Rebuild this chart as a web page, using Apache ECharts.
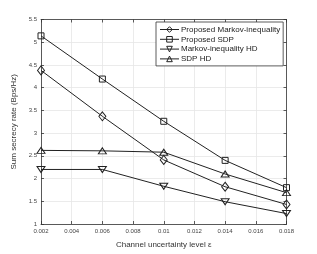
<!DOCTYPE html>
<html><head><meta charset="utf-8">
<script src="https://cdn.jsdelivr.net/npm/echarts@6/dist/echarts.min.js"></script>
<style>html,body{margin:0;padding:0;background:#fff}#c{width:317px;height:254px}</style>
</head><body><div id="c"></div>
<script>
const epsilon = [0.002, 0.006, 0.01, 0.014, 0.018];
const proposedMarkov = [4.38, 3.37, 2.41, 1.82, 1.43];
const proposedSDP = [5.14, 4.19, 3.26, 2.40, 1.80];
const markovHD = [2.20, 2.20, 1.83, 1.49, 1.23];
const sdpHD = [2.62, 2.61, 2.58, 2.10, 1.69];
const seriesNames = ['Proposed Markov-inequality', 'Proposed SDP', 'Markov-inequality HD', 'SDP HD'];
const xTicks = [0.002, 0.004, 0.006, 0.008, 0.01, 0.012, 0.014, 0.016, 0.018];
const yTicks = [1, 1.5, 2, 2.5, 3, 3.5, 4, 4.5, 5, 5.5];

const font = 'Liberation Sans, Arial, sans-serif';
const chart = echarts.init(document.getElementById('c'), null, {renderer: 'canvas'});
const mk = (name, data, symbol, rot, size) => ({
  name, type: 'line', data: epsilon.map((x, i) => [x, data[i]]),
  symbol, symbolRotate: rot, symbolSize: size, showSymbol: true,
  lineStyle: {color: '#222', width: 1},
  itemStyle: {color: 'rgba(255,255,255,0)', borderColor: '#222', borderWidth: 1},
  emphasis: {disabled: true}, z: 3
});
const fmtX = v => { const r = Math.round(v * 1000) / 1000; return String(r); };
const axisBase = {
  axisLine: {show: true, lineStyle: {color: '#333', width: 0.8}},
  axisTick: {show: true, inside: true, length: 3, lineStyle: {color: '#333', width: 0.8}},
};
chart.setOption({
  animation: false,
  backgroundColor: '#fff',
  grid: {left: 41, right: 30.5, top: 19.5, bottom: 29, containLabel: false},
  legend: {
    data: seriesNames, orient: 'vertical', left: 156, top: 22,
    itemWidth: 19, itemHeight: 7, itemGap: 1.8,
    padding: [3.5, 3, 3, 3.5],
    backgroundColor: '#fff', borderColor: '#333', borderWidth: 0.8,
    itemStyle: {color: 'rgba(255,255,255,0)', borderColor: '#222', borderWidth: 1},
    lineStyle: {color: '#222', width: 1},
    textStyle: {fontSize: 8, fontFamily: font, color: '#222', padding: [0, 0, 0, -3]},
    selectedMode: false
  },
  xAxis: [
    Object.assign({}, axisBase, {
      type: 'value', min: 0.002, max: 0.018, interval: 0.002,
      name: 'Channel uncertainty level \u03b5', nameLocation: 'middle', nameGap: 17,
      nameTextStyle: {fontSize: 8, fontFamily: font, color: '#333'},
      axisLabel: {fontSize: 6, fontFamily: font, color: '#444', margin: 4, formatter: fmtX,
        customValues: xTicks},
      axisTick: {show: true, inside: true, length: 3, lineStyle: {color: '#333', width: 0.8}, customValues: xTicks},
      splitLine: {show: true, lineStyle: {color: '#e6e6e6', width: 0.8}}
    }),
    Object.assign({}, axisBase, {
      type: 'value', position: 'top', min: 0.002, max: 0.018, interval: 0.002,
      axisLabel: {show: false}, splitLine: {show: false}
    })
  ],
  yAxis: [
    Object.assign({}, axisBase, {
      type: 'value', min: 1, max: 5.5, interval: 0.5,
      name: 'Sum secrecy rate (Bps/Hz)', nameLocation: 'middle', nameGap: 18,
      nameTextStyle: {fontSize: 8, fontFamily: font, color: '#333'},
      axisLabel: {fontSize: 6, fontFamily: font, color: '#444', margin: 4,
        formatter: v => String(Math.round(v * 10) / 10)},
      splitLine: {show: true, lineStyle: {color: '#e6e6e6', width: 0.8}}
    }),
    Object.assign({}, axisBase, {
      type: 'value', position: 'right', min: 1, max: 5.5, interval: 0.5,
      axisLabel: {show: false}, splitLine: {show: false}
    })
  ],
  series: [
    mk(seriesNames[0], proposedMarkov, 'diamond', 0, [7, 9]),
    mk(seriesNames[1], proposedSDP, 'rect', 0, 6),
    mk(seriesNames[2], markovHD, 'triangle', 180, [8, 6]),
    mk(seriesNames[3], sdpHD, 'triangle', 0, [8, 6])
  ]
});
</script></body></html>
